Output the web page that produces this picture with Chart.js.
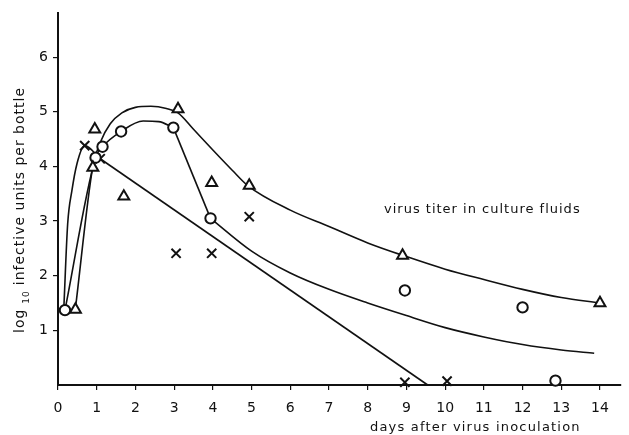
<!DOCTYPE html>
<html>
<head>
<meta charset="utf-8">
<script src="https://cdn.jsdelivr.net/npm/chart.js@4/dist/chart.umd.min.js"></script>
<style>
html,body{margin:0;padding:0;background:#fff;}
#wrap{width:629px;height:435px;position:relative;}
</style>
</head>
<body>
<div id="wrap"><canvas id="c" width="629" height="435"></canvas></div>
<script>
// Tick values
const xTicks = [0,1,2,3,4,5,6,7,8,9,10,11,12,13,14];
const yTicks = [1,2,3,4,5,6];

// Measured points (days, log10 titer)
const triangleX = [0.45, 0.9, 0.95, 1.7, 3.1, 3.97, 4.94, 8.9, 14.0];
const triangleY = [1.38, 3.98, 4.68, 3.45, 5.05, 3.7, 3.65, 2.37, 1.5];
const circleX = [0.18, 0.97, 1.15, 1.63, 2.98, 3.94, 8.96, 12.0, 12.85];
const circleY = [1.37, 4.16, 4.36, 4.64, 4.71, 3.05, 1.73, 1.42, 0.08];
const crossX = [0.69, 1.09, 3.05, 3.97, 4.94, 8.96, 10.05];
const crossY = [4.38, 4.14, 2.41, 2.41, 3.08, 0.05, 0.07];

// Hand-drawn fitted curves
const curveTriX = [0.45, 0.9, 1.1, 1.35, 1.65, 2.0, 2.4, 2.8, 3.1, 3.5, 4.0, 4.5, 4.9, 6, 7, 8, 9, 10, 11, 12, 13, 14];
const curveTriY = [1.4, 4.0, 4.45, 4.78, 4.98, 5.08, 5.1, 5.06, 4.98, 4.68, 4.3, 3.93, 3.65, 3.2, 2.9, 2.6, 2.35, 2.12, 1.93, 1.75, 1.6, 1.5];
const curveCircRiseX = [0.18, 0.97, 1.15, 1.63, 2.2, 2.6, 2.98];
const curveCircRiseY = [1.37, 4.16, 4.36, 4.64, 4.83, 4.82, 4.71];
const curveCircDropX = [2.98, 3.94];
const curveCircDropY = [4.71, 3.05];
const curveCircTailX = [3.94, 5, 6, 7, 8, 9, 10, 11, 12, 13, 13.85];
const curveCircTailY = [3.05, 2.45, 2.05, 1.75, 1.5, 1.27, 1.05, 0.88, 0.74, 0.64, 0.58];
const curveCrossRiseX = [0.15, 0.25, 0.36, 0.49, 0.69, 1.09];
const curveCrossRiseY = [1.4, 2.95, 3.56, 4.05, 4.38, 4.14];
const curveCrossLineX = [1.09, 9.55];
const curveCrossLineY = [4.14, 0.0];

const texts = {
  yTitleA: "log",
  ySub: "10",
  yTitleB: "infective units per bottle",
  xTitle: "days after virus inoculation",
  note: "virus titer in culture fluids"
};

const pts = (xs, ys) => xs.map((x, i) => ({x: x, y: ys[i]}));
const INK = '#111';
const FONT = '"DejaVu Sans", "Open Sans", sans-serif';

function markerSet(xs, ys, style, r) {
  return {data: pts(xs, ys), showLine: false, pointStyle: style, pointRadius: r,
    pointBorderWidth: 2, pointBorderColor: INK, pointBackgroundColor: '#fff', clip: false, order: 0};
}
function curveSet(xs, ys, tension) {
  return {data: pts(xs, ys), showLine: true, pointRadius: 0, borderColor: INK, borderWidth: 1.6,
    tension: tension, cubicInterpolationMode: tension > 0 ? 'monotone' : 'default', clip: false, order: 5, fill: false};
}

const textPlugin = {
  id: 'texts',
  afterDraw(chart) {
    const ctx = chart.ctx;
    ctx.save();
    ctx.fillStyle = INK;
    ctx.textBaseline = 'alphabetic';
    // annotation
    ctx.font = '13px ' + FONT;
    ctx.letterSpacing = '1px';
    ctx.textAlign = 'left';
    ctx.fillText(texts.note, 384, 213);
    // x title
    ctx.letterSpacing = '1.2px';
    ctx.fillText(texts.xTitle, 370, 431);
    ctx.letterSpacing = '1px';
    // y title rotated
    ctx.translate(24, 333);
    ctx.rotate(-Math.PI / 2);
    ctx.font = '14px ' + FONT;
    let x = 0;
    ctx.fillText(texts.yTitleA, x, 0);
    x += ctx.measureText(texts.yTitleA).width + 5;
    ctx.font = '9px ' + FONT;
    ctx.fillText(texts.ySub, x, 5);
    x += ctx.measureText(texts.ySub).width + 5;
    ctx.font = '14px ' + FONT;
    ctx.fillText(texts.yTitleB, x, 0);
    ctx.restore();
  }
};

new Chart(document.getElementById('c'), {
  type: 'scatter',
  data: {
    datasets: [
      markerSet(triangleX, triangleY, 'triangle', 6.3),
      markerSet(circleX, circleY, 'circle', 5.2),
      markerSet(crossX, crossY, 'crossRot', 6.5),
      curveSet(curveTriX, curveTriY, 0.4),
      curveSet(curveCircRiseX, curveCircRiseY, 0.4),
      curveSet(curveCircDropX, curveCircDropY, 0),
      curveSet(curveCircTailX, curveCircTailY, 0.4),
      curveSet(curveCrossRiseX, curveCrossRiseY, 0.4),
      curveSet(curveCrossLineX, curveCrossLineY, 0)
    ]
  },
  options: {
    responsive: false,
    animation: false,
    events: [],
    layout: {padding: {top: 12, right: 0, left: 0, bottom: 0}},
    plugins: {legend: {display: false}, tooltip: {enabled: false}, title: {display: false}},
    scales: {
      x: {
        type: 'linear', min: 0, max: 14.53,
        afterFit(s) { s.height = 50; },
        afterBuildTicks(s) { s.ticks = xTicks.map(v => ({value: v})); },
        border: {display: true, color: INK, width: 2},
        grid: {display: true, drawOnChartArea: false, drawTicks: true, tickLength: 5, color: INK, lineWidth: 1.2},
        ticks: {color: INK, font: {family: FONT, size: 14}, padding: 10, maxRotation: 0, autoSkip: false}
      },
      y: {
        type: 'linear', min: 0, max: 6.8,
        afterFit(s) { s.width = 58; },
        afterBuildTicks(s) { s.ticks = yTicks.map(v => ({value: v})); },
        border: {display: true, color: INK, width: 2},
        grid: {display: true, drawOnChartArea: false, drawTicks: true, tickLength: 5, color: INK, lineWidth: 1.2},
        ticks: {color: INK, font: {family: FONT, size: 14}, padding: 5, autoSkip: false}
      }
    }
  },
  plugins: [textPlugin]
});
</script>
</body>
</html>
